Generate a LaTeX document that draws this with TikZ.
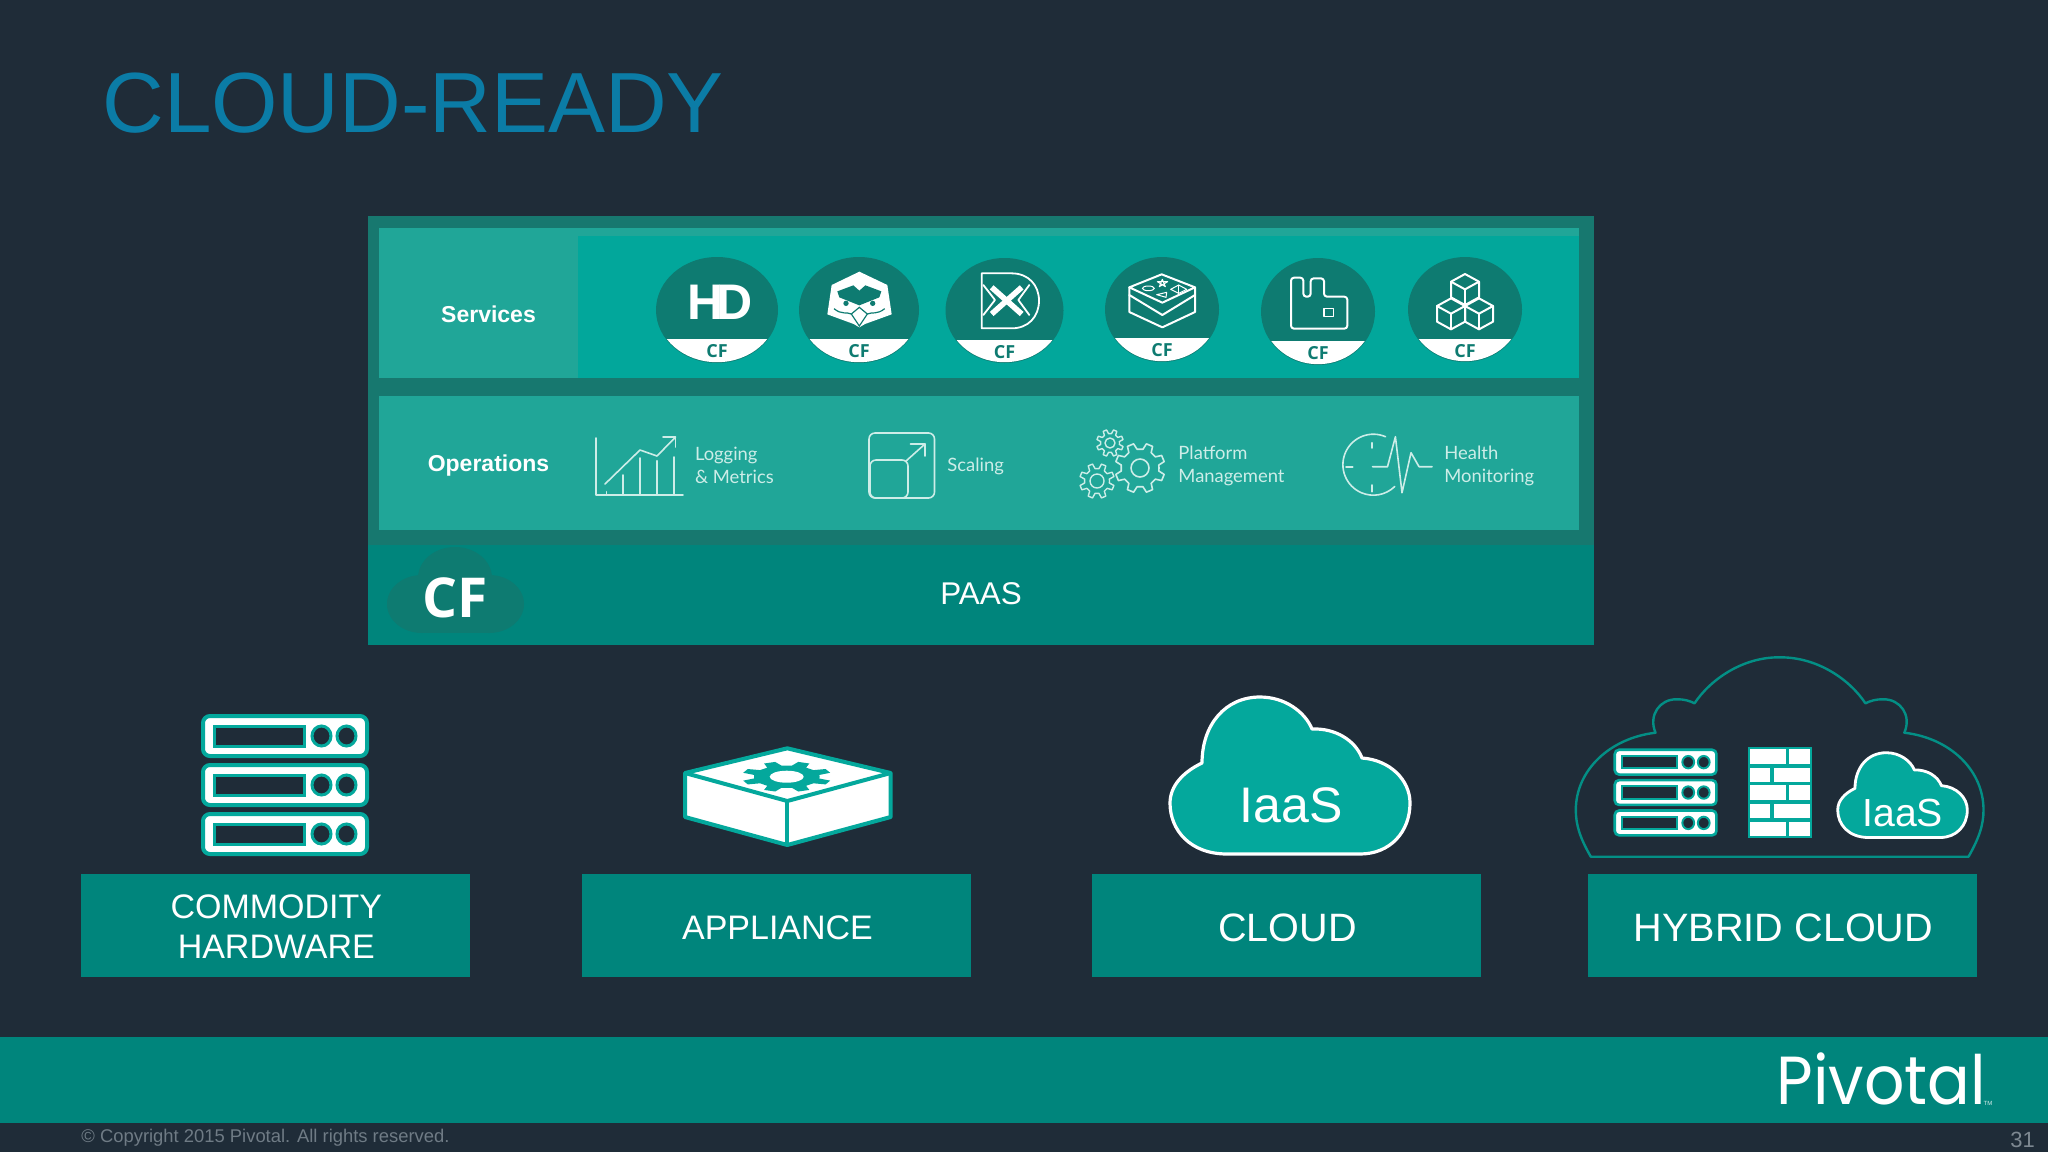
\documentclass[tikz,border=0pt]{standalone}
\usepackage{fontspec}
\setmainfont{Liberation Sans}
\newfontfamily\opsfont{Lato}
\newfontfamily\cffont{Open Sans}
\newfontfamily\logofont{Poppins}
\definecolor{bgdark}{HTML}{1F2C38}
\definecolor{frameteal}{HTML}{17786F}
\definecolor{svcteal}{HTML}{02A79B}
\definecolor{cellteal}{HTML}{20A698}
\definecolor{paasteal}{HTML}{00857C}
\definecolor{circteal}{HTML}{0E7B71}
\definecolor{iconteal}{HTML}{04A89C}
\definecolor{opstext}{HTML}{CDEDE8}
\definecolor{titleblue}{HTML}{0B7CA6}
\definecolor{footgrey}{HTML}{6F7B85}
\tikzset{
  lbl/.style={text=white,inner sep=0pt,align=center},
  basebox/.style={fill=paasteal,inner sep=0pt,minimum width=194.5pt,minimum height=51.5pt},
  opslabel/.style={text=opstext,inner sep=0pt,anchor=west,font=\opsfont\fontsize{9.2}{11.5}\selectfont,align=left},
  opsline/.style={draw=opstext,line width=.8pt,line cap=round,line join=round},
  iconline/.style={draw=white,line width=1pt,line join=round,line cap=round},
  cfmark/.style={text=circteal,inner sep=0pt,font=\cffont\bfseries\fontsize{9}{9}\selectfont},
  zoomed/.style={scale=.33333},
}
% service badge: name, cx, cy, rx, ry, chord y
\newcommand{\badge}[6]{%
  \fill[circteal] (#2,#3) ellipse [x radius=#4,y radius=#5];
  \begin{scope}
    \clip (#2,#3) ellipse [x radius=#4-.6,y radius=#5-.8];
    \fill[white] (#2-#4,#6) rectangle (#2+#4,#3+#5);
  \end{scope}
  \node[cfmark] (#1) at (#2,#6+12) {CF};
}
% gear: cx, cy, teeth, outer r, inner r, path style
\newcommand{\gearshape}[6]{%
  \pgfmathsetmacro{\gst}{360/#3}
  \path[shift={(#1,#2)},#6] (0:#5)
    \foreach \i [evaluate=\i as \ga using (\i-.5)*\gst] in {1,...,#3} {
      -- ({\ga-.3*\gst}:#5) -- ({\ga-.17*\gst}:#4) -- ({\ga+.17*\gst}:#4) -- ({\ga+.3*\gst}:#5)
    } -- cycle;
}
% server stack, drawn at the size of the big one: x, y, scale, line width
\newcommand{\serverstack}[4]{%
  \begin{scope}[shift={(#1,#2)},scale=#3]
    \foreach \ry in {0,49,98} {
      \draw[draw=iconteal,fill=white,line width=#4,rounded corners=#3*3.5pt] (2,\ry+2) rectangle (166,\ry+42);
      \draw[draw=iconteal,fill=bgdark,line width=#4*.75] (13,\ry+12) rectangle (103,\ry+32);
      \draw[draw=iconteal,fill=bgdark,line width=#4*.75] (120.5,\ry+22) ellipse [x radius=9.5,y radius=10];
      \draw[draw=iconteal,fill=bgdark,line width=#4*.75] (145.5,\ry+22) ellipse [x radius=9.5,y radius=10];
    }
  \end{scope}
}
% cloud, 240 x 157 at scale 1: x, y, scale, line width
\newcommand{\iaascloud}[4]{%
  \draw[shift={(#1,#2)},scale=#3,fill=iconteal,draw=white,line width=#4,line join=round]
    (57,157) .. controls (20,157) and (0,133) .. (0,106)
    .. controls (0,89) and (13,75) .. (32,66)
    .. controls (32,28) and (55,0) .. (90,0)
    .. controls (115,0) and (135,15) .. (142,32)
    .. controls (165,31) and (185,43) .. (192,61)
    .. controls (220,63) and (240,83) .. (240,106)
    .. controls (240,135) and (220,157) .. (190,157) -- cycle;
}
\begin{document}
\begin{tikzpicture}[x=.5pt,y=-.5pt]
\useasboundingbox (0,0) rectangle (2048,1152);
\fill[bgdark] (0,0) rectangle (2048,1152);

% title
\node[anchor=base west,inner sep=0pt,text=titleblue,font=\fontsize{42.7}{44}\selectfont] (title) at (102,132) {CLOUD-READY};

% stack panel
\fill[frameteal] (368,216) rectangle (1594,645);
\fill[paasteal] (368,545) rectangle (1594,645);
\fill[svcteal] (379,228) rectangle (1579,378);
\fill[cellteal] (379,228) rectangle (1579,236);
\fill[cellteal] (379,228) rectangle (578,378);
\fill[cellteal] (379,396) rectangle (1579,530);
\node[lbl,font=\bfseries\fontsize{11.5}{12}\selectfont] (services) at (488.5,314) {Services};
\node[lbl,font=\bfseries\fontsize{11.5}{12}\selectfont] (operations) at (488.5,466) {Operations};
\node[lbl,font=\fontsize{15.7}{16}\selectfont] (paas) at (981,593.5) {PAAS};

% CF cloud
\fill[circteal] (455,578) ellipse [x radius=37,y radius=31];
\fill[circteal] (422,604) ellipse [x radius=35,y radius=29];
\fill[circteal] (489,604) ellipse [x radius=35,y radius=29];
\fill[circteal] (422,585) rectangle (489,633);
\node[text=white,inner sep=0pt,font=\cffont\bfseries\fontsize{27.5}{27.5}\selectfont] (cfcloud) at (455,598) {CF};

% service badges
\badge{cfhd}{717}{310}{61}{53}{339}
\badge{cfowl}{859}{310}{60}{53}{339}
\badge{cfdx}{1004.5}{310.5}{59}{52.5}{340}
\badge{cfredis}{1162}{309.5}{57}{52.5}{338}
\badge{cfrabbit}{1318}{311.5}{57}{53.5}{341}
\badge{cfcubes}{1465}{309.5}{57}{52.5}{339}

% HD
\node[text=white,inner sep=0pt,font=\bfseries\fontsize{25}{25}\selectfont] (hd) at (720,302.5) {H\kern-3.6pt D};

% owl
\begin{scope}[shift={(650,250)},zoomed]
  \fill[white] (628,65) -- (712,105) -- (725,193) -- (645,222) -- (628,232) -- (611,222) -- (532,193) -- (545,105) -- cycle;
  \fill[circteal] (562,124) -- (610,106) -- (628,122) -- (646,106) -- (694,124) -- (688,142) -- (628,166) -- (568,142) -- cycle;
  \fill[circteal] (588,160) circle [radius=8];
  \fill[circteal] (668,160) circle [radius=8];
  \draw[circteal,line width=.6pt] (552,176) .. controls (575,195) and (590,185) .. (604,192);
  \draw[circteal,line width=.6pt] (704,176) .. controls (681,195) and (666,185) .. (652,192);
  \draw[circteal,line width=.6pt] (628,172) -- (604,192) -- (628,228) -- (652,192) -- cycle;
\end{scope}

% DX
\begin{scope}[shift={(650,250)},zoomed]
  \draw[iconline,line width=.9pt] (995,70) -- (1085,70) .. controls (1135,70) and (1167,105) .. (1167,152) .. controls (1167,200) and (1135,235) .. (1085,235) -- (995,235) -- cycle;
  \draw[iconline,line width=.9pt] (1000,105) -- (1035,150) -- (1000,195);
  \draw[iconline,line width=.9pt] (1138,105) -- (1105,150) -- (1138,195);
  \draw[white,line width=2.8pt] (1025,112) -- (1115,192);
  \draw[white,line width=2.8pt] (1115,112) -- (1025,192);
\end{scope}

% redis
\begin{scope}[shift={(1100,250)},zoomed]
  \draw[iconline] (185,73) -- (285,112) -- (187,158) -- (88,112) -- cycle;
  \draw[iconline] (88,112) -- (88,135) -- (187,195) -- (285,135) -- (285,112);
  \draw[iconline] (88,135) -- (88,186) -- (187,232) -- (285,186) -- (285,135);
  \draw[iconline,line width=.5pt] (145,115) ellipse [x radius=18,y radius=7];
  \draw[iconline,line width=.5pt] (172,95) -- (203,95) -- (178,110) -- (187,88) -- (196,110) -- cycle;
  \draw[iconline,line width=.5pt] (170,134) -- (200,127) -- (198,142) -- cycle;
  \draw[iconline,line width=.5pt] (212,118) -- (236,105) -- (260,118) -- (236,130) -- cycle;
  \draw[iconline,line width=.5pt] (236,105) -- (236,130);
\end{scope}

% rabbit
\begin{scope}[shift={(1100,250)},zoomed]
  \draw[iconline,rounded corners=1.5pt] (573,83) -- (610,83) -- (610,140) -- (632,140) -- (632,85) -- (672,85) -- (672,140) -- (742,140) -- (742,236) -- (573,236) -- cycle;
  \draw[iconline,line width=.8pt] (672,175) rectangle (700,200);
\end{scope}

% cubes
\begin{scope}[shift={(1100,250)},zoomed]
  \foreach \cx/\cy in {1095/72,1053/145,1137/145} {
    \draw[iconline] (\cx,\cy) -- (\cx+42,\cy+23) -- (\cx+42,\cy+70) -- (\cx,\cy+93) -- (\cx-42,\cy+70) -- (\cx-42,\cy+23) -- cycle;
    \draw[iconline] (\cx-42,\cy+23) -- (\cx,\cy+46) -- (\cx+42,\cy+23);
    \draw[iconline] (\cx,\cy+46) -- (\cx,\cy+93);
  }
\end{scope}

% logging & metrics icon
\draw[opsline] (596,438) -- (596,495) -- (683,495);
\foreach \bx/\by in {606.6/491.7,623/475,640/458,657/460.7,674/457} {
  \draw[opsline] (\bx,\by) -- (\bx,495);
}
\draw[opsline] (605,484) -- (640,450) -- (657,456) -- (675.6,437);
\draw[opsline] (663,437) -- (675.6,437) -- (675.6,447);
\node[opslabel] (logging) at (694.6,465.5) {Logging\\\& Metrics};

% scaling icon
\draw[opsline,rounded corners=3pt] (869,433) rectangle (934.5,498);
\draw[opsline,rounded corners=3pt] (870,460) rectangle (908,498);
\draw[opsline] (906,461) -- (925,444);
\draw[opsline] (910.5,444) -- (925,444) -- (925,456);
\node[opslabel] (scaling) at (947,466) {Scaling};

% gears icon
\gearshape{1110}{443}{8}{13.5}{9.5}{draw=opstext,line width=.7pt,line join=round}
\draw[opsline,line width=.7pt] (1110,443) circle [radius=5];
\gearshape{1140}{468}{8}{25}{19}{draw=opstext,line width=.8pt,line join=round}
\draw[opsline] (1140,468) circle [radius=9];
\gearshape{1097}{481}{8}{17.5}{12.5}{draw=opstext,line width=.7pt,line join=round}
\draw[opsline,line width=.7pt] (1097,481) circle [radius=7];
\node[opslabel] (platform) at (1178,466) {Platform\\Management};

% health icon
\draw[opsline] (1385.5,436.7) arc [start angle=-66.6,end angle=-314.3,radius=30.5];
\draw[opsline] (1371.7,442.7) -- (1371.7,448);
\draw[opsline] (1371.7,485) -- (1371.7,491.7);
\draw[opsline] (1346,466.7) -- (1352.7,466.7);
\draw[opsline] (1372.5,466.7) -- (1387.5,466.7) -- (1395.4,436.7) -- (1402,492.7) -- (1411,452.7) -- (1419,466.7) -- (1432,466.7);
\node[opslabel] (health) at (1444,466) {Health\\Monitoring};

% commodity hardware
\serverstack{201}{714}{1}{2pt}
\node[basebox] (commoditybox) at (275.7,925.5) {};
\node[lbl,font=\fontsize{17}{20}\selectfont] (commodity) at (276.3,926.8) {COMMODITY\\HARDWARE};

% appliance
\draw[fill=white,draw=iconteal,line width=2pt,line join=round] (787.3,748.3) -- (890.7,773) -- (890.7,817) -- (787.3,845) -- (685,817) -- (685,773) -- cycle;
\draw[draw=iconteal,line width=2pt,line join=round] (685,773) -- (787.3,801) -- (890.7,773);
\draw[draw=iconteal,line width=2pt] (787.3,801) -- (787.3,845);
\gearshape{786.7}{776.7}{8}{45}{33}{fill=iconteal,yscale=.34}
\fill[white] (786.7,776.7) ellipse [x radius=17,y radius=6];
\node[basebox] (appliancebox) at (776.5,925.5) {};
\node[lbl,font=\fontsize{17}{20}\selectfont] (appliance) at (777.5,927.5) {APPLIANCE};

% cloud
\iaascloud{1170}{697}{1}{1.6pt}
\node[lbl,font=\fontsize{25}{25}\selectfont] (iaasbig) at (1291,805) {IaaS};
\node[basebox] (cloudbox) at (1286.2,925.5) {};
\node[lbl,font=\fontsize{19.8}{22}\selectfont] (cloud) at (1287.5,928) {CLOUD};

% hybrid cloud
\draw[draw=iconteal!85!black,line width=1.2pt,line join=round] (1590.8,856.7) .. controls (1580,838) and (1575.8,825) .. (1575.8,810)
  .. controls (1575.8,770) and (1610,738) .. (1655.5,732.7)
  .. controls (1648,715) and (1660,699) .. (1676.5,699.3)
  .. controls (1684,699) and (1690,701) .. (1694.5,703.3)
  .. controls (1710,680) and (1742,657) .. (1779.6,657.3)
  .. controls (1818,657) and (1850,680) .. (1865.4,703.3)
  .. controls (1870,701) and (1876,699) .. (1883.4,699.3)
  .. controls (1900,699) and (1912,715) .. (1904.3,732.7)
  .. controls (1950,738) and (1983.5,770) .. (1983.5,810)
  .. controls (1983.5,825) and (1979,838) .. (1968.5,856.7) -- cycle;
\serverstack{1613.5}{748.5}{.62}{1.3pt}
\foreach \by in {748.3,784.3,820.7} {
  \draw[fill=white,draw=iconteal,line width=1pt] (1749,\by) rectangle (1786.7,\by+16.5);
  \draw[fill=white,draw=iconteal,line width=1pt] (1788.3,\by) rectangle (1810.7,\by+16.5);
}
\foreach \by in {766.7,802.7} {
  \draw[fill=white,draw=iconteal,line width=1pt] (1749,\by) rectangle (1771,\by+16.5);
  \draw[fill=white,draw=iconteal,line width=1pt] (1772.7,\by) rectangle (1810.7,\by+16.5);
}
\iaascloud{1837.7}{752.7}{.54}{1.4pt}
\node[lbl,font=\fontsize{19.6}{20}\selectfont] (iaassmall) at (1902.7,813) {IaaS};
\node[basebox] (hybridbox) at (1782.5,925.5) {};
\node[lbl,font=\fontsize{19.8}{22}\selectfont] (hybrid) at (1783.5,928) {HYBRID CLOUD};

% footer
\fill[paasteal] (0,1037) rectangle (2048,1123);
\node[text=white,inner sep=0pt,anchor=base west,xscale=.93,font=\logofont\fontsize{34}{35}\selectfont] (pivotal) at (1776,1104.5) {Pivotal};
\node[text=white!85!paasteal,inner sep=0pt,font=\fontsize{3}{3}\selectfont] (tm) at (1988,1103) {TM};
\node[anchor=west,inner sep=0pt,text=footgrey,font=\fontsize{9.2}{10}\selectfont] (copyright) at (81,1137.5) {© Copyright 2015 Pivotal. All rights reserved.};
\node[inner sep=0pt,text=footgrey!90!white,font=\fontsize{11}{11}\selectfont] (pagenum) at (2022.7,1139.5) {31};
\end{tikzpicture}
\end{document}
